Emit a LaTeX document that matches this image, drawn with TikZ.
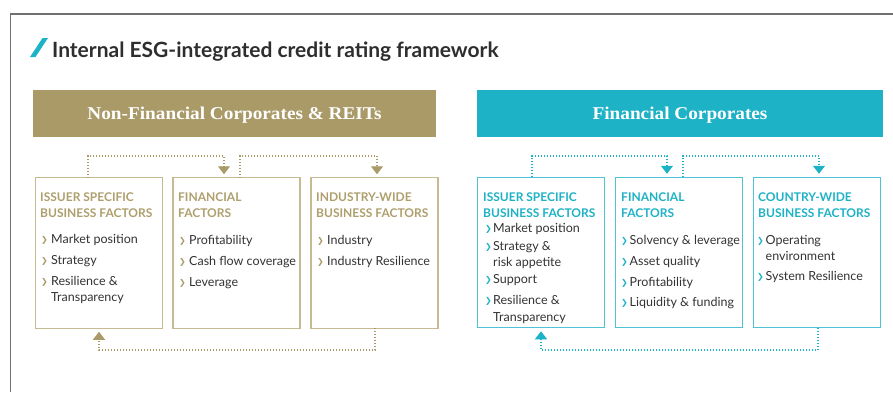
\documentclass[tikz,border=0pt]{standalone}
\usepackage{fontspec}
\setmainfont{Lato}
\newfontfamily\serifhd{Liberation Serif}
\newfontfamily\chevfont{DejaVu Sans}
\usetikzlibrary{arrows.meta,calc}
\definecolor{gold}{HTML}{A99A68}
\definecolor{goldtxt}{HTML}{AE9F6C}
\definecolor{goldline}{HTML}{C6BA92}
\definecolor{teal}{HTML}{1EB2C7}
\definecolor{tealline}{HTML}{4FC3D3}
\definecolor{bodytxt}{HTML}{333333}
\definecolor{framegray}{HTML}{707070}
\newcommand\chev[1]{\raisebox{1.2pt}{\textcolor{#1}{\chevfont\fontsize{8}{8}\selectfont ❯}}}
\newcommand\gb{\makebox[10pt][l]{\chev{gold}}}
\newcommand\tb{\makebox[8pt][l]{\chev{teal}}}
\newcommand\tbw{\makebox[8.5pt][l]{\chev{teal}}}
\tikzset{
  x=1pt, y=-1pt,
  boxg/.style={draw=goldline, line width=1.4pt, minimum width=127pt, minimum height=150.5pt, inner sep=0pt, outer sep=0pt},
  boxt/.style={draw=tealline, line width=1.4pt, minimum width=127pt, minimum height=150.5pt, inner sep=0pt, outer sep=0pt},
  hdg/.style={anchor=north west, inner sep=0pt, align=left, font=\fontsize{12}{16}\selectfont\bfseries},
  items/.style={anchor=north west, inner sep=0pt, align=left, text=bodytxt, font=\fontsize{12.5}{16.5}\selectfont},
  conng/.style={draw=gold, line width=1.2pt, dash pattern=on 1.2pt off 1.8pt, shorten >=3.5pt, -{Triangle[width=12pt,length=8pt]}},
  connt/.style={draw=teal, line width=1.2pt, dash pattern=on 1.2pt off 1.8pt, shorten >=3.5pt, -{Triangle[width=12pt,length=8pt]}},
  bar/.style={inner sep=0pt, outer sep=0pt, minimum height=47pt},
  barlabel/.style={anchor=base, inner sep=0pt, text=white, font=\serifhd\fontsize{18}{20}\selectfont\bfseries}
}
\begin{document}
\begin{tikzpicture}
\useasboundingbox[fill=white] (0,0) rectangle (893,392);
% frame
\draw[framegray, line width=1.4pt] (10.5,392) -- (10.5,14) -- (893,14);
% title
\fill[teal] (30,57) -- (35.5,57) -- (48,38) -- (42.5,38) -- cycle;
\node[anchor=base west, inner sep=0pt, text=black!82, font=\fontsize{21}{24}\selectfont\bfseries] (title) at (52,57) {Internal ESG-integrated credit rating framework};
% header bars
\node[bar, fill=gold, minimum width=403pt] (barL) at (234.5,113.5) {};
\node[bar, fill=teal, minimum width=406pt] (barR) at (680,113.5) {};
\node[barlabel] (barLt) at (barL.center |- 0,119) {\scalebox{1.07}[1]{Non-Financial Corporates \& REITs}};
\node[barlabel] (barRt) at (barR.center |- 0,119) {\scalebox{1.07}[1]{Financial Corporates}};
% coordinates for connector levels
\coordinate (topline) at (0,156);
\coordinate (botline) at (0,350);
% left boxes
\node[boxg] (L1) at (99,253) {};
\node[boxg] (L2) at (236.5,253) {};
\node[boxg] (L3) at (374.5,253) {};
\node[hdg, text=goldtxt] (L1h) at (40,189.8) {\strut ISSUER SPECIFIC\\BUSINESS FACTORS};
\node[hdg, text=goldtxt] (L2h) at (178,189.8) {\strut FINANCIAL\\FACTORS};
\node[hdg, text=goldtxt] (L3h) at (316,189.8) {\strut INDUSTRY-WIDE\\BUSINESS FACTORS};
\node[items] (L1i) at (41,231.5) {\strut\gb Market position\\[4.5pt]\gb Strategy\\[4.5pt]\gb Resilience \&\\\hspace*{10pt}Transparency};
\node[items] (L2i) at (179,232.5) {\strut\gb Profitability\\[4.5pt]\gb Cash flow coverage\\[4.5pt]\gb Leverage};
\node[items] (L3i) at (317,232.5) {\strut\gb Industry\\[4.5pt]\gb Industry Resilience};
% right boxes
\node[boxt] (R1) at (541,252.5) {};
\node[boxt] (R2) at (679,252.5) {};
\node[boxt] (R3) at (817,252.5) {};
\node[hdg, text=teal] (R1h) at (483,189.8) {\strut ISSUER SPECIFIC\\BUSINESS FACTORS};
\node[hdg, text=teal] (R2h) at (621,189.8) {\strut FINANCIAL\\FACTORS};
\node[hdg, text=teal] (R3h) at (758,189.8) {\strut COUNTRY-WIDE\\BUSINESS FACTORS};
\node[items] (R1i) at (485,220.5) {\strut\tb Market position\\[1.5pt]\tb Strategy \&\\\hspace*{8pt}risk appetite\\[0.5pt]\tb Support\\[4.5pt]\tb Resilience \&\\\hspace*{8pt}Transparency};
\node[items] (R2i) at (621,232.5) {\strut\tbw Solvency \& leverage\\[4.5pt]\tbw Asset quality\\[4.5pt]\tbw Profitability\\[3.5pt]\tbw Liquidity \& funding};
\node[items] (R3i) at (757,232.5) {\strut\tbw Operating\\\hspace*{8.5pt}environment\\[3.5pt]\tbw System Resilience};
% left connectors
\draw[conng] ([xshift=-11pt]L1.north) -- ([xshift=-11pt]L1.north |- topline) -| ([xshift=-12.5pt]L2.north);
\draw[conng] ([xshift=3.5pt]L2.north) -- ([xshift=3.5pt]L2.north |- topline) -| ([xshift=2.5pt]L3.north);
\draw[conng] ([xshift=0.5pt]L3.south) -- ([xshift=0.5pt]L3.south |- botline) -| (L1.south);
% right connectors
\draw[connt] ([xshift=-9pt]R1.north) -- ([xshift=-9pt]R1.north |- topline) -| ([xshift=-12pt]R2.north);
\draw[connt] ([xshift=4pt]R2.north) -- ([xshift=4pt]R2.north |- topline) -| ([xshift=2pt]R3.north);
\draw[connt] ([xshift=1pt]R3.south) -- ([xshift=1pt]R3.south |- botline) -| (R1.south);
\end{tikzpicture}
\end{document}
